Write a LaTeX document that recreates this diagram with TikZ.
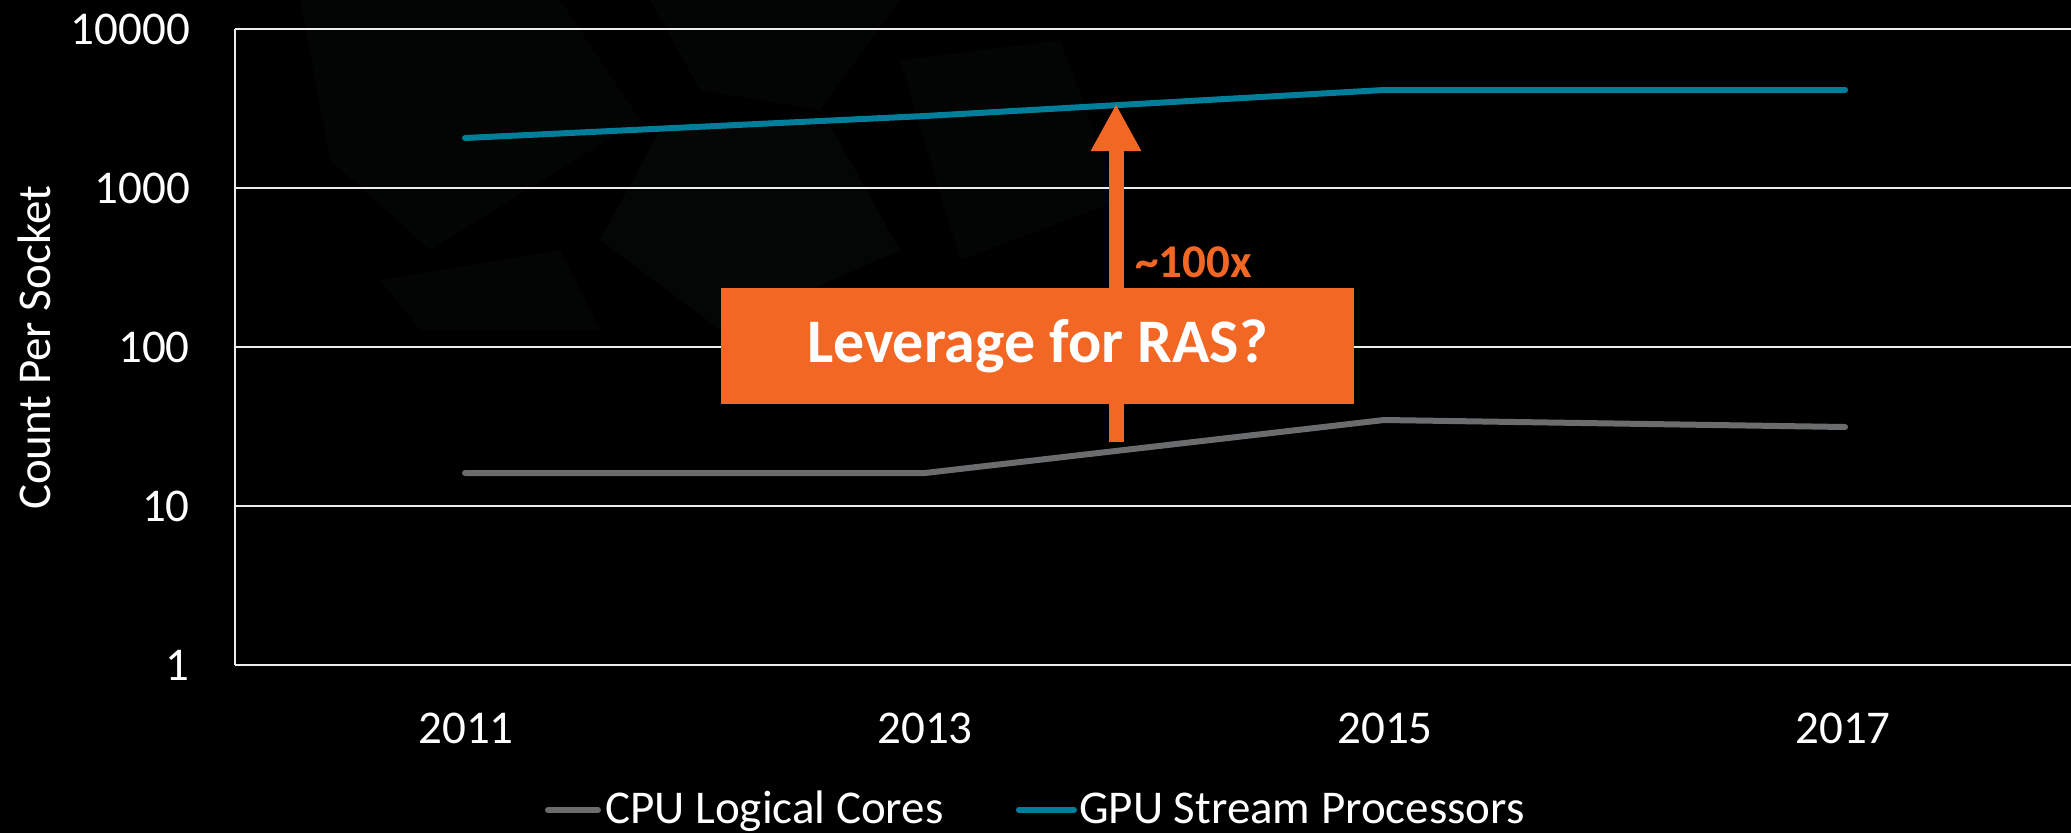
\documentclass[tikz,border=0pt]{standalone}
\usepackage{fontspec}
\setmainfont{Carlito}
\usetikzlibrary{arrows.meta}

\definecolor{accent}{HTML}{F26724}
\definecolor{gputeal}{HTML}{007E9A}
\definecolor{cpugray}{HTML}{6B6C6E}
\definecolor{facet}{HTML}{040606}
\definecolor{facetb}{HTML}{030404}

\begin{document}
\begin{tikzpicture}[x=1pt, y=-1pt,
  gridline/.style={draw=white!93!black, line width=2pt},
  series/.style={line width=6pt, line cap=round, line join=round},
  body/.style={text=white, font=\fontsize{47}{56}\selectfont, inner sep=0pt},
  ticklbl/.style={body, anchor=east},
  yearlbl/.style={body, anchor=base},
  legendlbl/.style={body, anchor=base west},
  callout/.style={fill=accent, text=white, inner sep=0pt,
    minimum width=633pt, minimum height=116pt,
    font=\bfseries\fontsize{62}{70}\selectfont},
  growth/.style={draw=accent, line width=15pt,
    -{Triangle[width=47pt, length=47pt]}}
]
% page and background
\fill[black] (0,0) rectangle (2071,833);
\useasboundingbox (0,0) rectangle (2071,833);

% faint facets of the backdrop
\begin{scope}
  \fill[facetb] (300,0) -- (560,0) -- (640,120) -- (430,250) -- (330,160) -- cycle;
  \fill[facetb] (650,0) -- (900,0) -- (820,110) -- (700,90) -- cycle;
  \fill[facet]  (660,130) -- (830,125) -- (900,250) -- (720,330) -- (600,240) -- cycle;
  \fill[facetb] (900,60) -- (1060,40) -- (1120,200) -- (960,260) -- cycle;
  \fill[facetb] (380,280) -- (560,250) -- (600,330) -- (420,330) -- cycle;
\end{scope}

% value gridlines and their labels
\foreach \v/\yy in {10000/29, 1000/188, 100/347, 10/506, 1/665} {
  \draw[gridline] (235,\yy) -- (2071,\yy);
  \node[ticklbl] (tick\v) at (190,\yy) {\v};
}
\draw[gridline] (235,29) -- (235,665);

% year labels
\foreach \yr/\xx in {2011/466, 2013/925, 2015/1385, 2017/1843} {
  \node[yearlbl] (year\yr) at (\xx,743) {\yr};
}

% axis title
\node[body, rotate=90] (ytitle) at (34,348) {Count Per Socket};

% data points
\coordinate (g11) at (465,138);
\coordinate (g13) at (925,116);
\coordinate (g15) at (1384,90);
\coordinate (g17) at (1845,90);
\coordinate (c11) at (465,473);
\coordinate (c13) at (925,473);
\coordinate (c15) at (1384,420);
\coordinate (c17) at (1845,427);

% series
\draw[series, cpugray] (c11) -- (c13) -- (c15) -- (c17);
\draw[series, gputeal] (g11) -- (g13) -- (g15) -- (g17);

% growth arrow and callout
\coordinate (arrowfoot) at (1116,442);
\coordinate (gpuhit) at (1116,104);
\draw[growth] (arrowfoot) -- (gpuhit);
\node[anchor=base west, text=accent, inner sep=0pt,
      font=\bfseries\fontsize{47}{56}\selectfont] (factor) at (1135,277) {\textasciitilde100x};
\node[callout] (leverage) at (1037.5,346) {Leverage for RAS?};

% legend
\coordinate (cpuA) at (548,810);
\coordinate (cpuB) at (598,810);
\coordinate (gpuA) at (1019,810);
\coordinate (gpuB) at (1074,810);
\draw[series, cpugray] (cpuA) -- (cpuB);
\draw[series, gputeal] (gpuA) -- (gpuB);
\node[legendlbl] (cpulegend) at (605,823) {CPU Logical Cores};
\node[legendlbl] (gpulegend) at (1079,823) {GPU Stream Processors};
\end{tikzpicture}
\end{document}
